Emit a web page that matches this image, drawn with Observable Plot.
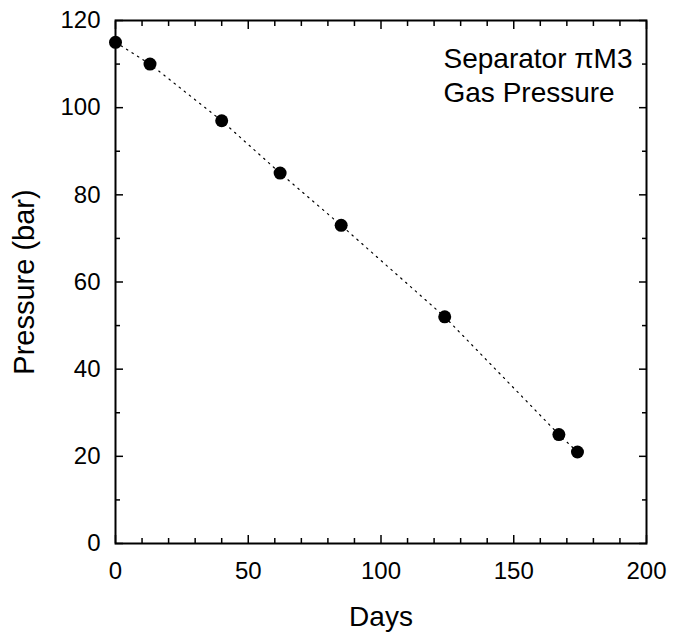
<!DOCTYPE html>
<html>
<head>
<meta charset="utf-8">
<script src="https://cdn.jsdelivr.net/npm/d3@7"></script>
<script src="https://cdn.jsdelivr.net/npm/@observablehq/plot@0.6"></script>
<style>
  html, body { margin: 0; padding: 0; background: #fff; }
  svg { display: block; }
</style>
</head>
<body>
<div id="chart"></div>
<script>
const days = [0, 13, 40, 62, 85, 124, 167, 174];
const pressure = [115, 110, 97, 85, 73, 52, 25, 21];
const xMajorTicks = [0, 50, 100, 150, 200];
const xMinorTicks = [10, 20, 30, 40, 60, 70, 80, 90, 110, 120, 130, 140, 160, 170, 180, 190];
const yMajorTicks = [0, 20, 40, 60, 80, 100, 120];
const yMinorTicks = [10, 30, 50, 70, 90, 110];
const xTitle = "Days";
const yTitle = "Pressure (bar)";
const note = "Separator \u03c0M3\nGas Pressure";

const data = days.map((d, i) => ({days: d, pressure: pressure[i]}));
const font = "'Liberation Sans', Arial, Helvetica, sans-serif";

const chart = Plot.plot({
  width: 673,
  height: 635,
  marginLeft: 115,
  marginRight: 27,
  marginTop: 20,
  marginBottom: 92,
  style: {fontFamily: font, background: "#fff", color: "#000"},
  x: {domain: [0, 200]},
  y: {domain: [0, 120]},
  marks: [
    // tick labels
    Plot.axisX({ticks: xMajorTicks, tickSize: 0, tickPadding: 18, fontSize: 24, label: null, tickFormat: d => String(d)}),
    Plot.axisY({ticks: yMajorTicks, tickSize: 0, tickPadding: 15, fontSize: 24, label: null, tickFormat: d => String(d)}),
    // inward ticks, all four sides
    Plot.axisX({anchor: "bottom", ticks: xMajorTicks, tickSize: -8, strokeWidth: 1.5, text: null, label: null}),
    Plot.axisX({anchor: "bottom", ticks: xMinorTicks, tickSize: -5, strokeWidth: 1.5, text: null, label: null}),
    Plot.axisX({anchor: "top", ticks: xMajorTicks, tickSize: -8, strokeWidth: 1.5, text: null, label: null}),
    Plot.axisX({anchor: "top", ticks: xMinorTicks, tickSize: -5, strokeWidth: 1.5, text: null, label: null}),
    Plot.axisY({anchor: "left", ticks: yMajorTicks, tickSize: -8, strokeWidth: 1.5, text: null, label: null}),
    Plot.axisY({anchor: "left", ticks: yMinorTicks, tickSize: -5, strokeWidth: 1.5, text: null, label: null}),
    Plot.axisY({anchor: "right", ticks: yMajorTicks, tickSize: -8, strokeWidth: 1.5, text: null, label: null}),
    Plot.axisY({anchor: "right", ticks: yMinorTicks, tickSize: -5, strokeWidth: 1.5, text: null, label: null}),
    Plot.frame({stroke: "#000", strokeWidth: 2}),
    // axis titles
    Plot.text([xTitle], {frameAnchor: "bottom", textAnchor: "middle", lineAnchor: "middle", dy: 74, fontSize: 28, fill: "#000"}),
    Plot.text([yTitle], {frameAnchor: "left", textAnchor: "middle", lineAnchor: "middle", dx: -91, rotate: -90, fontSize: 29, fill: "#000"}),
    // annotation
    Plot.text([note], {frameAnchor: "top-right", textAnchor: "start", lineAnchor: "top", dx: -203, dy: 24, fontSize: 28, lineHeight: 1.2, fill: "#000"}),
    // data
    Plot.line(data, {x: "days", y: "pressure", stroke: "#000", strokeWidth: 1.2, strokeDasharray: "1.5,5"}),
    Plot.dot(data, {x: "days", y: "pressure", r: 6.5, fill: "#000", stroke: "none"})
  ]
});

document.getElementById("chart").appendChild(chart);
</script>
</body>
</html>
